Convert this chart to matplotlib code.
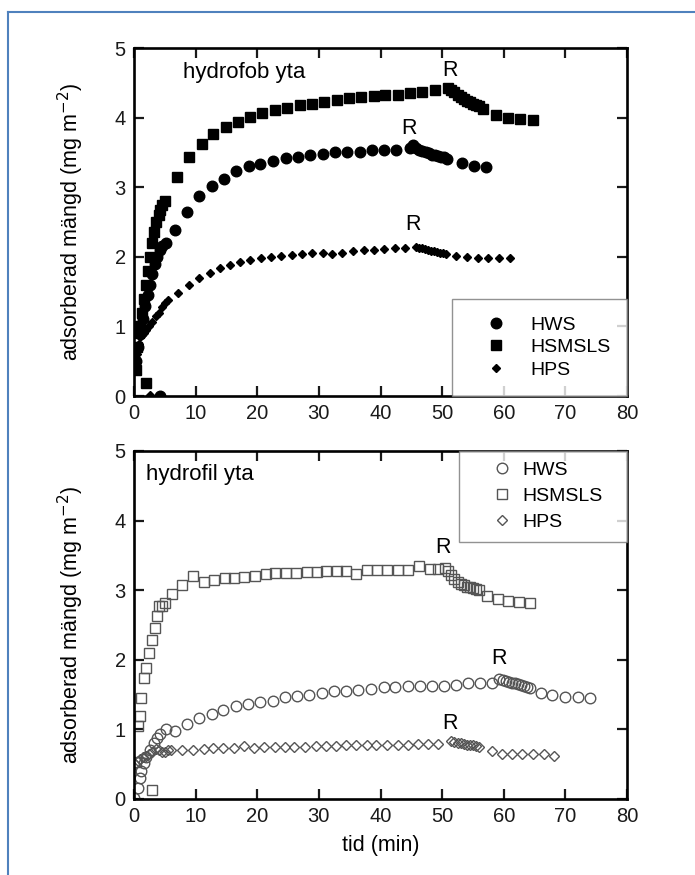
import matplotlib
matplotlib.use("Agg")
import matplotlib.pyplot as plt
from matplotlib.lines import Line2D

plt.rcParams['font.family'] = ['Liberation Sans', 'DejaVu Sans']

# ---- hydrofob yta (top panel, filled markers) ----
hfob_hws_t = [4.3, 0.3, 0.6, 1.0, 1.4, 1.8, 2.2, 2.6, 3.0, 3.4, 3.8, 4.2, 4.6, 5.2,
              6.6, 8.6, 10.6, 12.6, 14.6, 16.6, 18.6, 20.5, 22.6, 24.6, 26.6, 28.6,
              30.7, 32.6, 34.6, 36.6, 38.6, 40.6, 42.5, 44.8, 45.3, 45.8, 46.3, 46.8,
              47.3, 47.8, 48.3, 48.8, 49.3, 49.8, 50.3, 50.8, 53.2, 55.1, 57.1]
hfob_hws_y = [0.0, 0.5, 0.7, 0.9, 1.1, 1.3, 1.45, 1.6, 1.75, 1.9, 2.0, 2.1, 2.15, 2.2,
              2.38, 2.64, 2.87, 3.02, 3.12, 3.23, 3.3, 3.34, 3.37, 3.42, 3.44, 3.47,
              3.48, 3.5, 3.51, 3.51, 3.54, 3.54, 3.54, 3.57, 3.6, 3.57, 3.54, 3.52,
              3.50, 3.49, 3.47, 3.46, 3.45, 3.44, 3.43, 3.41, 3.35, 3.3, 3.29]

hfob_sms_t = [2.0, 0.3, 0.5, 0.8, 1.0, 1.3, 1.6, 2.0, 2.3, 2.6, 3.0, 3.3, 3.6, 4.0, 4.3,
              4.6, 5.0, 6.9, 9.0, 11.0, 12.9, 14.9, 16.8, 18.8, 20.8, 22.8, 24.8, 26.9,
              28.9, 30.8, 32.9, 34.9, 36.9, 38.9, 40.8, 42.8, 44.8, 46.8, 48.9, 50.9,
              51.5, 52.0, 52.5, 53.0, 53.5, 54.0, 54.5, 55.0, 55.5, 56.0, 56.7, 58.7,
              60.7, 62.7, 64.8]
hfob_sms_y = [0.19, 0.38, 0.7, 0.9, 1.0, 1.2, 1.4, 1.6, 1.8, 2.0, 2.2, 2.35, 2.5, 2.6,
              2.68, 2.75, 2.8, 3.14, 3.43, 3.62, 3.77, 3.87, 3.94, 4.01, 4.06, 4.11,
              4.14, 4.18, 4.2, 4.23, 4.25, 4.28, 4.3, 4.31, 4.32, 4.32, 4.35, 4.37,
              4.39, 4.43, 4.40, 4.37, 4.33, 4.30, 4.27, 4.24, 4.22, 4.20, 4.18, 4.16,
              4.12, 4.04, 4.0, 3.98, 3.96]

hfob_hps_t = [2.6, 0.2, 0.5, 0.8, 1.0, 1.3, 1.6, 2.0, 2.5, 3.0, 3.5, 4.0, 4.5, 5.0, 5.5,
              7.2, 9.0, 10.6, 12.3, 14.0, 15.6, 17.2, 18.9, 20.6, 22.3, 23.9, 25.6,
              27.3, 28.9, 30.6, 32.2, 33.8, 35.6, 37.3, 38.9, 40.6, 42.3, 43.9, 45.7,
              46.2, 46.7, 47.2, 47.7, 48.2, 48.7, 49.2, 49.7, 50.2, 50.7, 52.3, 54.1,
              55.8, 57.5, 59.3, 61.0]
hfob_hps_y = [0.02, 0.45, 0.6, 0.75, 0.85, 0.88, 0.9, 0.95, 1.0, 1.07, 1.15, 1.2, 1.28,
              1.33, 1.38, 1.48, 1.6, 1.7, 1.77, 1.84, 1.88, 1.92, 1.95, 1.98, 2.0,
              2.01, 2.02, 2.04, 2.05, 2.06, 2.04, 2.05, 2.09, 2.1, 2.1, 2.11, 2.13,
              2.12, 2.14, 2.13, 2.12, 2.11, 2.10, 2.09, 2.08, 2.07, 2.06, 2.05, 2.04,
              2.01, 2.0, 1.99, 1.99, 1.99, 1.98]

# ---- hydrofil yta (bottom panel, open markers) ----
hfil_hws_t = [0.0, 0.6, 0.9, 1.2, 1.7, 2.0, 2.6, 3.2, 3.8, 4.3, 5.2, 6.7, 8.6, 10.6,
              12.6, 14.5, 16.5, 18.5, 20.5, 22.6, 24.5, 26.4, 28.4, 30.5, 32.4, 34.4,
              36.4, 38.5, 40.5, 42.4, 44.4, 46.4, 48.3, 50.3, 52.2, 54.2, 56.2, 58.1,
              59.3, 59.8, 60.3, 60.8, 61.3, 61.8, 62.3, 62.8, 63.3, 63.8, 64.3, 66.1,
              67.9, 69.9, 72.0, 74.0]
hfil_hws_y = [0.01, 0.16, 0.3, 0.4, 0.52, 0.61, 0.71, 0.8, 0.88, 0.93, 1.0, 0.98, 1.08,
              1.16, 1.22, 1.28, 1.33, 1.37, 1.4, 1.41, 1.47, 1.48, 1.5, 1.52, 1.55,
              1.55, 1.57, 1.58, 1.61, 1.61, 1.62, 1.63, 1.63, 1.63, 1.64, 1.66, 1.66,
              1.66, 1.73, 1.71, 1.69, 1.68, 1.67, 1.66, 1.65, 1.64, 1.62, 1.61, 1.59,
              1.52, 1.49, 1.47, 1.47, 1.45]

hfil_sms_t = [0.3, 0.6, 0.9, 1.2, 1.7, 2.0, 2.5, 2.9, 3.4, 3.8, 4.0, 4.6, 5.1, 2.9, 6.1,
              7.8, 9.5, 11.3, 13.0, 14.7, 16.2, 17.9, 19.7, 21.4, 22.8, 24.6, 26.3,
              28.0, 29.7, 31.2, 33.0, 34.4, 36.1, 37.8, 39.5, 41.1, 42.8, 44.5, 46.3,
              48.0, 49.4, 50.5, 51.0, 51.5, 52.0, 52.5, 53.0, 53.5, 54.0, 54.5, 55.0,
              55.5, 56.0, 57.3, 59.0, 60.7, 62.5, 64.2]
hfil_sms_y = [0.53, 1.05, 1.19, 1.45, 1.74, 1.88, 2.1, 2.29, 2.46, 2.63, 2.77, 2.77,
              2.82, 0.13, 2.94, 3.08, 3.2, 3.12, 3.15, 3.17, 3.17, 3.19, 3.21, 3.23,
              3.24, 3.24, 3.25, 3.26, 3.26, 3.27, 3.27, 3.27, 3.23, 3.29, 3.29, 3.29,
              3.29, 3.29, 3.35, 3.3, 3.3, 3.32, 3.28, 3.22, 3.16, 3.12, 3.09, 3.07,
              3.05, 3.04, 3.03, 3.02, 3.0, 2.91, 2.87, 2.84, 2.83, 2.82]

hfil_hps_t = [0.2, 0.6, 1.0, 1.5, 2.0, 2.5, 3.0, 3.5, 4.0, 4.5, 5.0, 5.5, 6.0, 7.8, 9.5,
              11.3, 12.9, 14.5, 16.2, 17.8, 19.5, 21.1, 22.8, 24.5, 26.0, 27.8, 29.5,
              31.1, 32.7, 34.4, 36.0, 37.8, 39.3, 41.1, 42.8, 44.4, 46.1, 47.7, 49.4,
              51.5, 52.0, 52.5, 53.0, 53.5, 54.0, 54.5, 55.0, 55.5, 56.0, 58.1, 59.7,
              61.3, 63.0, 64.8, 66.5, 68.1]
hfil_hps_y = [0.5, 0.55, 0.58, 0.6, 0.62, 0.65, 0.68, 0.72, 0.7, 0.68, 0.68, 0.7, 0.7,
              0.71, 0.71, 0.72, 0.73, 0.73, 0.73, 0.76, 0.73, 0.75, 0.75, 0.75, 0.75,
              0.75, 0.76, 0.76, 0.76, 0.77, 0.77, 0.77, 0.77, 0.77, 0.78, 0.78, 0.79,
              0.79, 0.79, 0.84, 0.82, 0.81, 0.8, 0.79, 0.78, 0.78, 0.77, 0.76, 0.75,
              0.69, 0.64, 0.64, 0.64, 0.64, 0.64, 0.62]

series_labels = ['HWS', 'HSMSLS', 'HPS']
# "R" marks (rinse start) per panel, baseline positions
r_top_t = [51.2, 44.7, 45.3]
r_top_y = [4.60, 3.77, 2.38]
r_bot_t = [50.1, 59.2, 51.2]
r_bot_y = [3.53, 1.94, 1.01]

GRAY = '#555555'
ylab = 'adsorberad mängd (mg m$^{-2}$)'

fig = plt.figure(figsize=(6.95, 8.75), dpi=100)
ax1 = fig.add_axes([0.1928, 0.5474, 0.7094, 0.3977])
ax2 = fig.add_axes([0.1928, 0.0869, 0.7094, 0.3977])

# top panel
ax1.plot(hfob_hws_t, hfob_hws_y, 'o', ms=7.6, color='black', label=series_labels[0])
ax1.plot(hfob_sms_t, hfob_sms_y, 's', ms=7.2, color='black', label=series_labels[1])
ax1.plot(hfob_hps_t, hfob_hps_y, 'D', ms=4.3, color='black', label=series_labels[2])
for t, y in zip(r_top_t, r_top_y):
    ax1.text(t, y, 'R', ha='center', va='baseline', fontsize=15.5)
ax1.text(8.0, 4.65, 'hydrofob yta', ha='left', va='center', fontsize=16)

# bottom panel
ax2.plot(hfil_hws_t, hfil_hws_y, 'o', ms=7.6, mfc='none', mec=GRAY, mew=1.0,
         label=series_labels[0])
ax2.plot(hfil_sms_t, hfil_sms_y, 's', ms=7.8, mfc='none', mec=GRAY, mew=1.0,
         label=series_labels[1])
ax2.plot(hfil_hps_t, hfil_hps_y, 'D', ms=5.0, mfc='none', mec=GRAY, mew=1.0,
         label=series_labels[2])
for t, y in zip(r_bot_t, r_bot_y):
    ax2.text(t, y, 'R', ha='center', va='baseline', fontsize=15.5)
ax2.text(2.0, 4.66, 'hydrofil yta', ha='left', va='center', fontsize=16)

for ax in (ax1, ax2):
    ax.set_xlim(0, 80)
    ax.set_ylim(0, 5)
    ax.set_xticks(range(0, 81, 10))
    ax.set_yticks(range(0, 6))
    ax.tick_params(direction='in', length=7, width=1.6, top=True, right=True,
                   labelsize=14.5, pad=6, colors='#1a1a1a')
    for s in ax.spines.values():
        s.set_linewidth(1.9)
    ax.set_ylabel(ylab, fontsize=15.5)
    ax.yaxis.set_label_coords(-0.098, 0.5)

ax2.set_xlabel('tid (min)', fontsize=15.5, labelpad=6)

leg1 = ax1.legend(loc='lower left', bbox_to_anchor=(0.645, 0.0, 0.355, 0.284),
                  mode='expand', borderaxespad=0, fontsize=14, numpoints=1,
                  fancybox=False, borderpad=0.9, handlelength=2.74,
                  handletextpad=0.38, labelspacing=0.24)
leg1.get_frame().set_edgecolor('#777777')
leg1.get_frame().set_linewidth(1.0)

leg2 = ax2.legend(loc='upper left', bbox_to_anchor=(0.66, 0.748, 0.34, 0.252),
                  mode='expand', borderaxespad=0, fontsize=14, numpoints=1,
                  fancybox=False, borderpad=0.55, handlelength=3.3,
                  handletextpad=-0.6, labelspacing=0.42)
leg2.get_frame().set_edgecolor('#777777')
leg2.get_frame().set_linewidth(1.0)

# blue page frame (top and left edges only)
W, H = 695.0, 875.0
fig.add_artist(Line2D([8 / W, 1.0], [1 - 12 / H, 1 - 12 / H], color='#4f81bd', lw=1.5))
fig.add_artist(Line2D([8 / W, 8 / W], [0.0, 1 - 12 / H], color='#4f81bd', lw=1.5))

fig.savefig('out.png', dpi=100)
